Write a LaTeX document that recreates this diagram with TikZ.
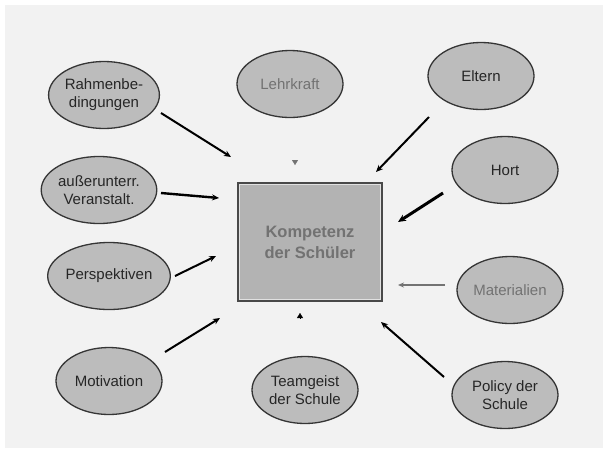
\documentclass[tikz,border=0pt]{standalone}
\usepackage{fontspec}
\setmainfont{Liberation Sans}
\usetikzlibrary{arrows.meta,shapes.geometric}
\definecolor{pagebg}{HTML}{F2F2F2}
\definecolor{bubblefill}{HTML}{BCBCBC}
\definecolor{boxfill}{HTML}{B3B3B3}
\definecolor{rimcol}{HTML}{353535}
\definecolor{softtext}{HTML}{727272}
\begin{document}
\begin{tikzpicture}[x=1pt,y=-1pt,
  bubble/.style={ellipse, draw=rimcol, line width=1.3pt, fill=bubblefill,
    minimum width=106pt, minimum height=67pt, inner sep=0pt,
    align=center, text=black!85, font=\fontsize{15}{18}\selectfont},
  centrebox/.style={rectangle, draw=rimcol!90, line width=2.2pt, fill=boxfill,
    minimum width=144pt, minimum height=117pt, inner sep=0pt,
    align=center, text=softtext, font=\bfseries\fontsize{16.5}{21}\selectfont},
  link/.style={line width=2pt, -{Stealth[length=7pt,width=6pt]}},
  thicklink/.style={line width=3pt, -{Stealth[length=8pt,width=7pt]}},
  thinlink/.style={line width=1.6pt, draw=black!55, -{Stealth[length=6pt,width=5pt]}},
  tip/.style={line width=0.1pt, -{Triangle[length=5pt,width=6pt]}}]

% page with its light strip at top and left
\fill[white] (0,0) rectangle (603,448);
\fill[pagebg] (5,5) rectangle (603,448);
\useasboundingbox (0,0) rectangle (603,448);

% centre
\node[centrebox] (comp) at (310,242) {Kompetenz\\der Schüler};
\draw[boxfill!40!white, line width=0.8pt]
  ([shift={(2.4pt,-2.4pt)}]comp.north west) rectangle ([shift={(-2.4pt,2.4pt)}]comp.south east);

% surrounding factors
\node[bubble] (rahmen) at (104,95) {Rahmenbe-\\dingungen};
\node[bubble, text=softtext] (lehr) at (290,84) {Lehrkraft};
\node[bubble] (eltern) at (481,76) {Eltern};
\node[bubble] (ausser) at (99,190) {außerunterr.\\Veranstalt.};
\node[bubble] (hort) at (505,170) {Hort};
\node[bubble] (persp) at (109,276) {Perspektiven};
\node[bubble, text=softtext] (mat) at (510,290) {Materialien};
\node[bubble] (motiv) at (109,381) {Motivation};
\node[bubble] (team) at (305,390) {Teamgeist\\der Schule};
\node[bubble] (policy) at (505,395) {Policy der\\Schule};

% arrow end points
\coordinate (rahmenA) at (161,113); \coordinate (rahmenB) at (231,157);
\coordinate (elternA) at (429,117); \coordinate (elternB) at (376,172);
\coordinate (ausserA) at (161,193); \coordinate (ausserB) at (219,198);
\coordinate (hortA) at (443,193);   \coordinate (hortB) at (398,222);
\coordinate (perspA) at (175,276);  \coordinate (perspB) at (216,256);
\coordinate (matA) at (445,285);    \coordinate (matB) at (398,285);
\coordinate (motivA) at (165,352);  \coordinate (motivB) at (220,318);
\coordinate (policyA) at (444,377); \coordinate (policyB) at (381,322);
\coordinate (lehrA) at (295,160);   \coordinate (lehrB) at (295,165);
\coordinate (teamA) at (300,319);   \coordinate (teamB) at (300,313);

% connectors
\draw[link] (rahmenA) -- (rahmenB);
\draw[link] (elternA) -- (elternB);
\draw[link, line width=2.4pt] (ausserA) -- (ausserB);
\draw[thicklink] (hortA) -- (hortB);
\draw[link] (perspA) -- (perspB);
\draw[thinlink] (matA) -- (matB);
\draw[link] (motivA) -- (motivB);
\draw[link] (policyA) -- (policyB);
\draw[tip, draw=black!55, fill=black!55] (lehrA) -- (lehrB);
\draw[tip] (teamA) -- (teamB);
\end{tikzpicture}
\end{document}
